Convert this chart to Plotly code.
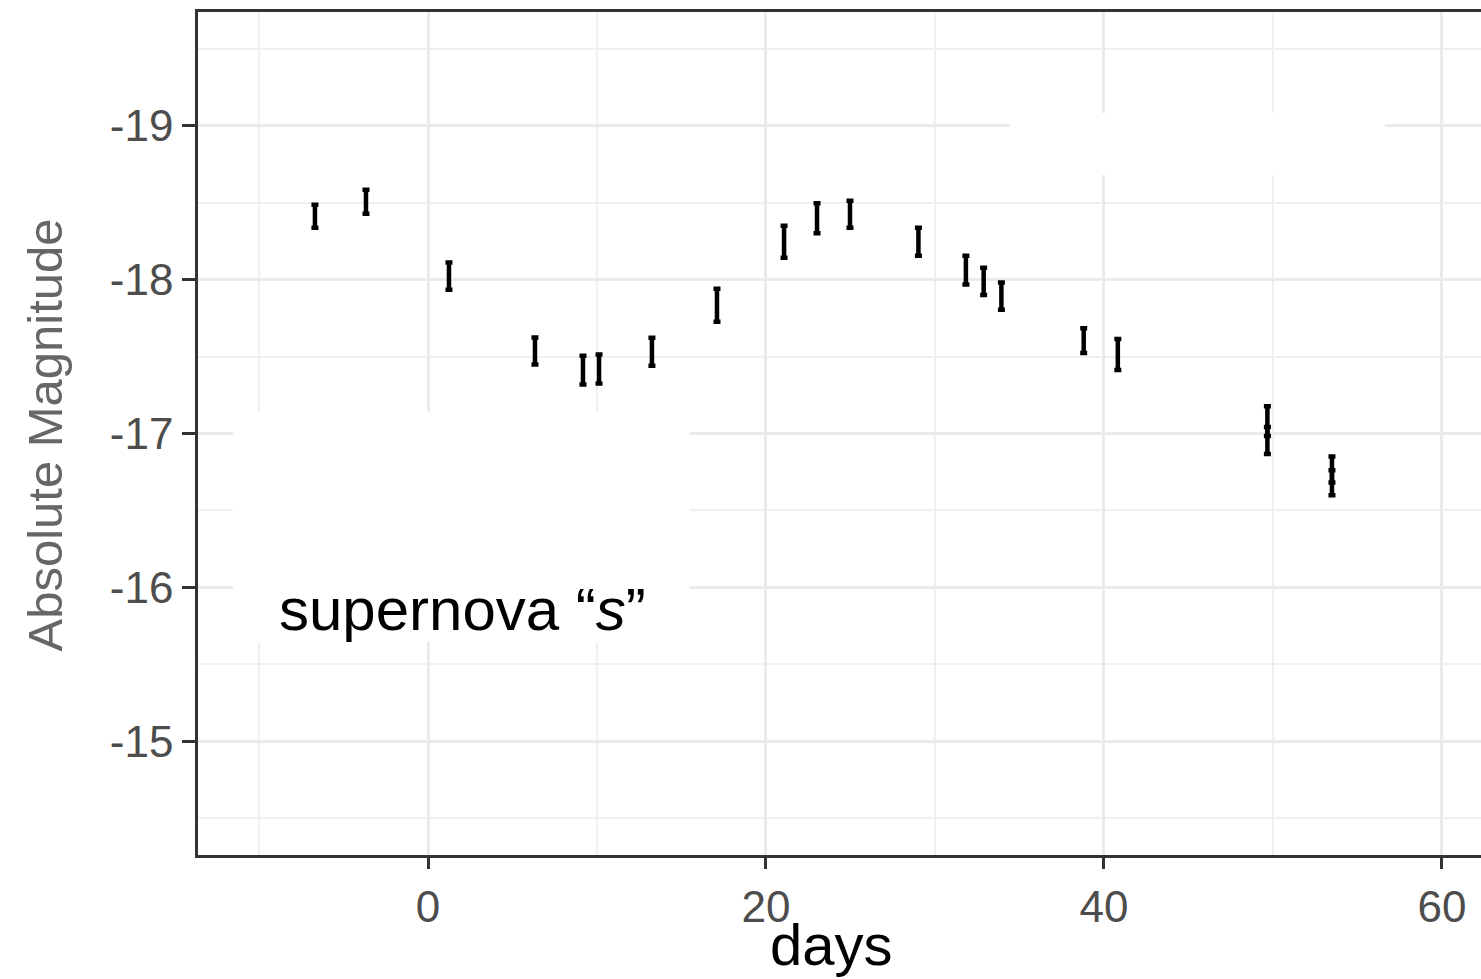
import plotly.graph_objects as go

# ---- data ----
days = [-6.69, -3.67, 1.24, 6.33, 9.17, 10.12, 13.25, 17.10, 21.07, 23.02,
        24.97, 29.02, 31.83, 32.88, 33.93, 38.80, 40.82, 49.67, 49.67, 53.49, 53.49]
abs_mag = [-18.412, -18.506, -18.023, -17.536, -17.412, -17.419, -17.532, -17.834,
           -18.247, -18.399, -18.425, -18.247, -18.062, -17.989, -17.893, -17.604,
           -17.513, -17.080, -16.955, -16.766, -16.680]
mag_err = [0.075, 0.078, 0.088, 0.088, 0.094, 0.094, 0.091, 0.107, 0.104, 0.097,
           0.088, 0.091, 0.094, 0.088, 0.088, 0.081, 0.101, 0.097, 0.088, 0.084, 0.081]

x_ticks = [0, 20, 40, 60]
y_ticks = [-19, -18, -17, -16, -15]

FONT = "Liberation Sans, Arial, Helvetica, sans-serif"

fig = go.Figure()
fig.add_trace(go.Scatter(
    x=days, y=abs_mag, mode="markers",
    marker=dict(size=1, color="black", opacity=0),
    error_y=dict(type="data", array=mag_err, symmetric=True,
                 color="black", thickness=4.5, width=3.5),
    showlegend=False, hoverinfo="skip",
))

# white masking boxes (as in the reference)
fig.add_shape(type="rect", xref="x", yref="y", x0=34.44, x1=56.63, y0=-19.084, y1=-18.68,
              fillcolor="white", line=dict(width=0), layer="above")
fig.add_shape(type="rect", xref="x", yref="y", x0=-11.54, x1=15.5, y0=-17.143, y1=-15.643,
              fillcolor="white", line=dict(width=0), layer="above")

fig.add_annotation(x=-8.95, y=-15.855, xref="x", yref="y", xanchor="left", yanchor="middle",
                   text="supernova \u201c<i>s</i>\u201d", showarrow=False,
                   font=dict(family=FONT, size=60, color="black"))

fig.add_annotation(x=0.4934, y=-0.106, xref="paper", yref="paper",
                   xanchor="center", yanchor="middle", text="days", showarrow=False,
                   font=dict(family=FONT, size=58, color="black"))
fig.add_annotation(x=-0.119, y=0.498, xref="paper", yref="paper",
                   xanchor="center", yanchor="middle", text="Absolute Magnitude",
                   textangle=-90, showarrow=False,
                   font=dict(family=FONT, size=49, color="#666666"))

axis_common = dict(
    showline=True, linecolor="#333333", linewidth=2.5,
    tickwidth=3, tickcolor="#333333",
    tickfont=dict(family=FONT, size=44, color="#4d4d4d"),
    showgrid=True, gridcolor="#ebebeb", gridwidth=2.5, zeroline=False,
)

fig.update_xaxes(range=[-13.61, 62.31], tickvals=x_ticks, ticktext=[str(v) for v in x_ticks],
                 mirror=True, ticks="outside", ticklen=11,
                 minor=dict(dtick=10, tick0=-10, showgrid=True, gridcolor="#f0f0f0",
                            gridwidth=2, ticks=""),
                 **axis_common)
fig.update_yaxes(range=[-14.26, -19.74], tickvals=y_ticks, ticktext=[str(v) for v in y_ticks],
                 mirror=False, ticks="outside", ticklen=13,
                 minor=dict(dtick=0.5, tick0=-19.5, showgrid=True, gridcolor="#f0f0f0",
                            gridwidth=2, ticks=""),
                 **axis_common)

fig.update_layout(
    width=1481, height=979,
    margin=dict(l=198, r=0, t=12, b=124),
    plot_bgcolor="white", paper_bgcolor="white",
    font=dict(family=FONT),
)

fig.write_html("out.html")
